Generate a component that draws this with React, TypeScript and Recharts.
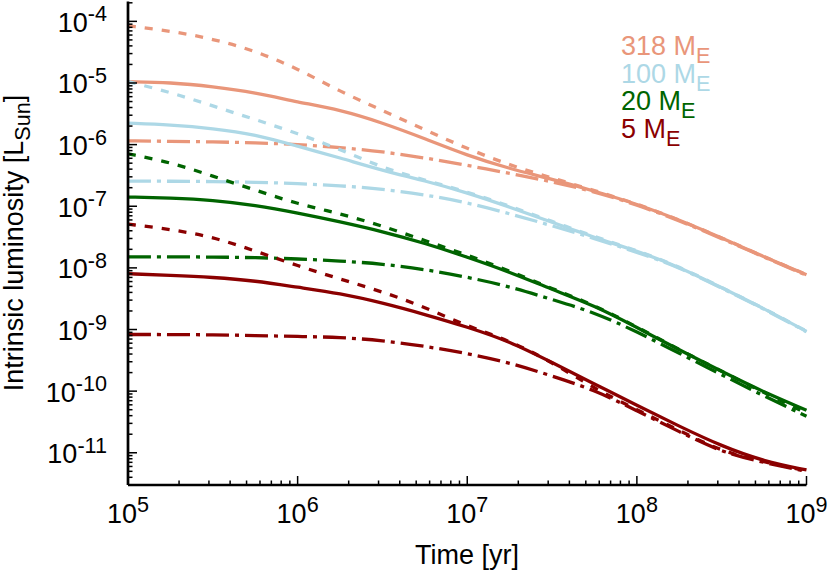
import { LineChart, Line, XAxis, YAxis, Customized } from "recharts";

const FONT = "'Liberation Sans', Arial, Helvetica, sans-serif";
const FS = 27;
const SMALL = 21.6;

// time grid [yr]
const times = [1e5, 1.78e5, 3.16e5, 5.62e5, 1e6, 1.78e6, 3.16e6, 5.62e6, 1e7, 1.78e7, 3.16e7, 5.62e7, 1e8, 1.78e8, 3.16e8, 5.62e8, 1e9];

// 318 M_E
const m318Solid = [1.05e-5, 1.02e-5, 8.75e-6, 7.0e-6, 4.9e-6, 3.67e-6, 2.26e-6, 1.25e-6, 6.67e-7, 4.06e-7, 2.75e-7, 1.76e-7, 1.09e-7, 5.98e-8, 3.06e-8, 1.51e-8, 7.76e-9];
const m318Dashed = [8.45e-5, 7.0e-5, 5.2e-5, 3.33e-5, 1.71e-5, 7.26e-6, 3.6e-6, 1.74e-6, 8.6e-7, 4.63e-7, 2.88e-7, 1.8e-7, 1.1e-7, 6.0e-8, 3.08e-8, 1.52e-8, 7.8e-9];
const m318DashDot = [1.15e-6, 1.13e-6, 1.11e-6, 1.07e-6, 1.01e-6, 9.0e-7, 7.7e-7, 6.1e-7, 4.63e-7, 3.4e-7, 2.52e-7, 1.72e-7, 1.06e-7, 5.85e-8, 3.0e-8, 1.49e-8, 7.6e-9];

// 100 M_E
const m100Solid = [2.23e-6, 2.09e-6, 1.83e-6, 1.47e-6, 9.4e-7, 6.1e-7, 3.8e-7, 2.6e-7, 1.66e-7, 9.7e-8, 5.5e-8, 3.1e-8, 1.89e-8, 1.04e-8, 4.77e-9, 2.19e-9, 9.3e-10];
const m100Dashed = [1.05e-5, 7.08e-6, 4.24e-6, 2.56e-6, 1.52e-6, 8.4e-7, 4.2e-7, 2.65e-7, 1.72e-7, 1.0e-7, 5.7e-8, 3.2e-8, 1.92e-8, 1.05e-8, 4.8e-9, 2.2e-9, 9.4e-10];
const m100DashDot = [2.55e-7, 2.55e-7, 2.52e-7, 2.46e-7, 2.33e-7, 2.16e-7, 1.9e-7, 1.54e-7, 1.15e-7, 7.57e-8, 4.84e-8, 3.0e-8, 1.8e-8, 1.02e-8, 4.7e-9, 2.15e-9, 9.2e-10];

// 20 M_E
const m20Solid = [1.41e-7, 1.36e-7, 1.26e-7, 1.04e-7, 7.8e-8, 5.6e-8, 3.9e-8, 2.52e-8, 1.5e-8, 8.55e-9, 4.46e-9, 2.44e-9, 1.08e-9, 4.65e-10, 2.09e-10, 9.6e-11, 4.9e-11];
const m20Dashed = [7.1e-7, 5.18e-7, 3.08e-7, 1.83e-7, 1.09e-7, 7.6e-8, 4.8e-8, 2.77e-8, 1.62e-8, 8.9e-9, 4.6e-9, 2.5e-9, 1.1e-9, 4.7e-10, 2.1e-10, 9.4e-11, 4.4e-11];
const m20DashDot = [1.51e-8, 1.51e-8, 1.5e-8, 1.47e-8, 1.4e-8, 1.3e-8, 1.16e-8, 9.46e-9, 7.08e-9, 5.0e-9, 3.06e-9, 1.9e-9, 9.2e-10, 4.1e-10, 1.85e-10, 8.3e-11, 3.93e-11];

// 5 M_E
const m5Solid = [8.04e-9, 7.59e-9, 7.05e-9, 6.19e-9, 4.84e-9, 3.86e-9, 2.71e-9, 1.76e-9, 1.1e-9, 6.4e-10, 2.91e-10, 1.31e-10, 5.87e-11, 2.69e-11, 1.28e-11, 7.24e-12, 5.26e-12];
const m5Dashed = [5.12e-8, 4.24e-8, 3.18e-8, 1.89e-8, 1.08e-8, 6.59e-9, 4.11e-9, 2.31e-9, 1.13e-9, 6.6e-10, 2.95e-10, 1.1e-10, 5.0e-11, 2.3e-11, 1.05e-11, 7.1e-12, 5.1e-12];
const m5DashDot = [8.3e-10, 8.3e-10, 8.2e-10, 8.0e-10, 7.7e-10, 7.5e-10, 6.64e-10, 5.36e-10, 4.11e-10, 2.9e-10, 1.76e-10, 1.05e-10, 4.8e-11, 2.2e-11, 1.02e-11, 6.9e-12, 5.0e-12];

const massLabels = ["318", "100", "20", "5"];
const massColors = ["#E9967A", "#ADD8E6", "#006400", "#8B0000"];

const xMajors = [1e5, 1e6, 1e7, 1e8, 1e9];
const yMajors = [1e-11, 1e-10, 1e-9, 1e-8, 1e-7, 1e-6, 1e-5, 1e-4];
const xDomain = [1e5, 1e9];
const yDomain = [3e-12, 2.1e-4];

const DASHED = "8 9";
const DASHDOT = "23 6 4 6";

const series = [
  { key: "m318s", vals: m318Solid, color: massColors[0], dash: undefined },
  { key: "m318d", vals: m318Dashed, color: massColors[0], dash: DASHED },
  { key: "m318dd", vals: m318DashDot, color: massColors[0], dash: DASHDOT },
  { key: "m100s", vals: m100Solid, color: massColors[1], dash: undefined },
  { key: "m100d", vals: m100Dashed, color: massColors[1], dash: DASHED },
  { key: "m100dd", vals: m100DashDot, color: massColors[1], dash: DASHDOT },
  { key: "m20s", vals: m20Solid, color: massColors[2], dash: undefined },
  { key: "m20d", vals: m20Dashed, color: massColors[2], dash: DASHED },
  { key: "m20dd", vals: m20DashDot, color: massColors[2], dash: DASHDOT },
  { key: "m5s", vals: m5Solid, color: massColors[3], dash: undefined },
  { key: "m5d", vals: m5Dashed, color: massColors[3], dash: DASHED },
  { key: "m5dd", vals: m5DashDot, color: massColors[3], dash: DASHDOT },
];

const data = times.map((t, i) => {
  const row: Record<string, number> = { t };
  series.forEach((s) => (row[s.key] = s.vals[i]));
  return row;
});

// log ticks: majors plus 2..9 minors inside the domain
function logTicks(majors: number[], [lo, hi]: number[]) {
  const out: number[] = [];
  const decades = [majors[0] / 10, ...majors];
  for (const d of decades) {
    for (let m = 1; m <= 9; m++) {
      const v = m * d;
      if (v >= lo * 0.999 && v <= hi * 1.001) out.push(v);
    }
  }
  return out;
}
const xTicks = logTicks(xMajors, xDomain);
const yTicks = logTicks(yMajors, yDomain);

const isMajor = (v: number) => Math.abs(Math.log10(v) - Math.round(Math.log10(v))) < 1e-6;
const expOf = (v: number) => String(Math.round(Math.log10(v)));

const MAJ = 9;
const MIN = 4.5;
const TICK_W = 1.5;

const BottomTick = (props: any) => {
  const { x, y, payload } = props;
  const v = payload.value;
  const major = isMajor(v);
  return (
    <g>
      <line x1={x} y1={y} x2={x} y2={y - (major ? MAJ : MIN)} stroke="#000" strokeWidth={TICK_W} />
      {major && (
        <text x={x} y={y + 38} textAnchor="middle" fontFamily={FONT} fontSize={FS} fill="#000">
          10<tspan fontSize={SMALL} dy={-11}>{expOf(v)}</tspan>
        </text>
      )}
    </g>
  );
};

const TopTick = (props: any) => {
  const { x, y, payload } = props;
  const major = isMajor(payload.value);
  return <line x1={x} y1={y} x2={x} y2={y + (major ? MAJ : MIN)} stroke="#000" strokeWidth={TICK_W} />;
};

const LeftTick = (props: any) => {
  const { x, y, payload } = props;
  const v = payload.value;
  const major = isMajor(v);
  return (
    <g>
      <line x1={x} y1={y} x2={x + (major ? MAJ : MIN)} y2={y} stroke="#000" strokeWidth={TICK_W} />
      {major && (
        <text x={x - 21} y={y + 10.5} textAnchor="end" fontFamily={FONT} fontSize={FS} fill="#000">
          10<tspan fontSize={SMALL} dy={-10.5}>{expOf(v)}</tspan>
        </text>
      )}
    </g>
  );
};

const RightTick = (props: any) => {
  const { x, y, payload } = props;
  const major = isMajor(payload.value);
  return <line x1={x} y1={y} x2={x - (major ? MAJ : MIN)} y2={y} stroke="#000" strokeWidth={TICK_W} />;
};

const Annotations = () => (
  <g fontFamily={FONT} fill="#000">
    <text x={467} y={564} textAnchor="middle" fontSize={FS}>
      Time [yr]
    </text>
    <text transform="rotate(-90)" x={-243} y={23} textAnchor="middle" fontSize={FS}>
      Intrinsic luminosity [L<tspan fontSize={SMALL} dy={7}>Sun</tspan>
      <tspan dy={-7}>]</tspan>
    </text>
    {massLabels.map((m, i) => (
      <text key={m} x={621} y={55 + i * 27.5} fontSize={FS} fill={massColors[i]}>
        {m} M<tspan fontSize={SMALL} dy={8}>E</tspan>
      </text>
    ))}
  </g>
);

const axisLine = { stroke: "#000", strokeWidth: 2.7 };

export default function App() {
  return (
    <div style={{ position: "absolute", left: 0, top: 0, background: "#fff" }}>
      <LineChart width={830} height={571} data={data} margin={{ top: 1.5, right: 23.5, bottom: 0, left: 0 }}>
        <XAxis
          dataKey="t"
          type="number"
          scale="log"
          domain={xDomain}
          ticks={xTicks}
          interval={0}
          height={86}
          tickSize={0}
          tickMargin={0}
          tickLine={false}
          axisLine={axisLine}
          tick={<BottomTick />}
        />
        <XAxis
          xAxisId="top"
          orientation="top"
          dataKey="t"
          type="number"
          scale="log"
          domain={xDomain}
          ticks={xTicks}
          interval={0}
          height={0}
          tickSize={0}
          tickMargin={0}
          tickLine={false}
          axisLine={axisLine}
          tick={<TopTick />}
        />
        <YAxis
          type="number"
          scale="log"
          domain={yDomain}
          ticks={yTicks}
          interval={0}
          width={128}
          tickSize={0}
          tickMargin={0}
          tickLine={false}
          axisLine={axisLine}
          tick={<LeftTick />}
        />
        <YAxis
          yAxisId="right"
          orientation="right"
          type="number"
          scale="log"
          domain={yDomain}
          ticks={yTicks}
          interval={0}
          width={0}
          tickSize={0}
          tickMargin={0}
          tickLine={false}
          axisLine={axisLine}
          tick={<RightTick />}
        />
        {series.map((s) => (
          <Line
            key={s.key}
            dataKey={s.key}
            type="basis"
            stroke={s.color}
            strokeWidth={3.3}
            strokeDasharray={s.dash}
            dot={false}
            activeDot={false}
            isAnimationActive={false}
          />
        ))}
        <Customized component={Annotations} />
      </LineChart>
    </div>
  );
}
